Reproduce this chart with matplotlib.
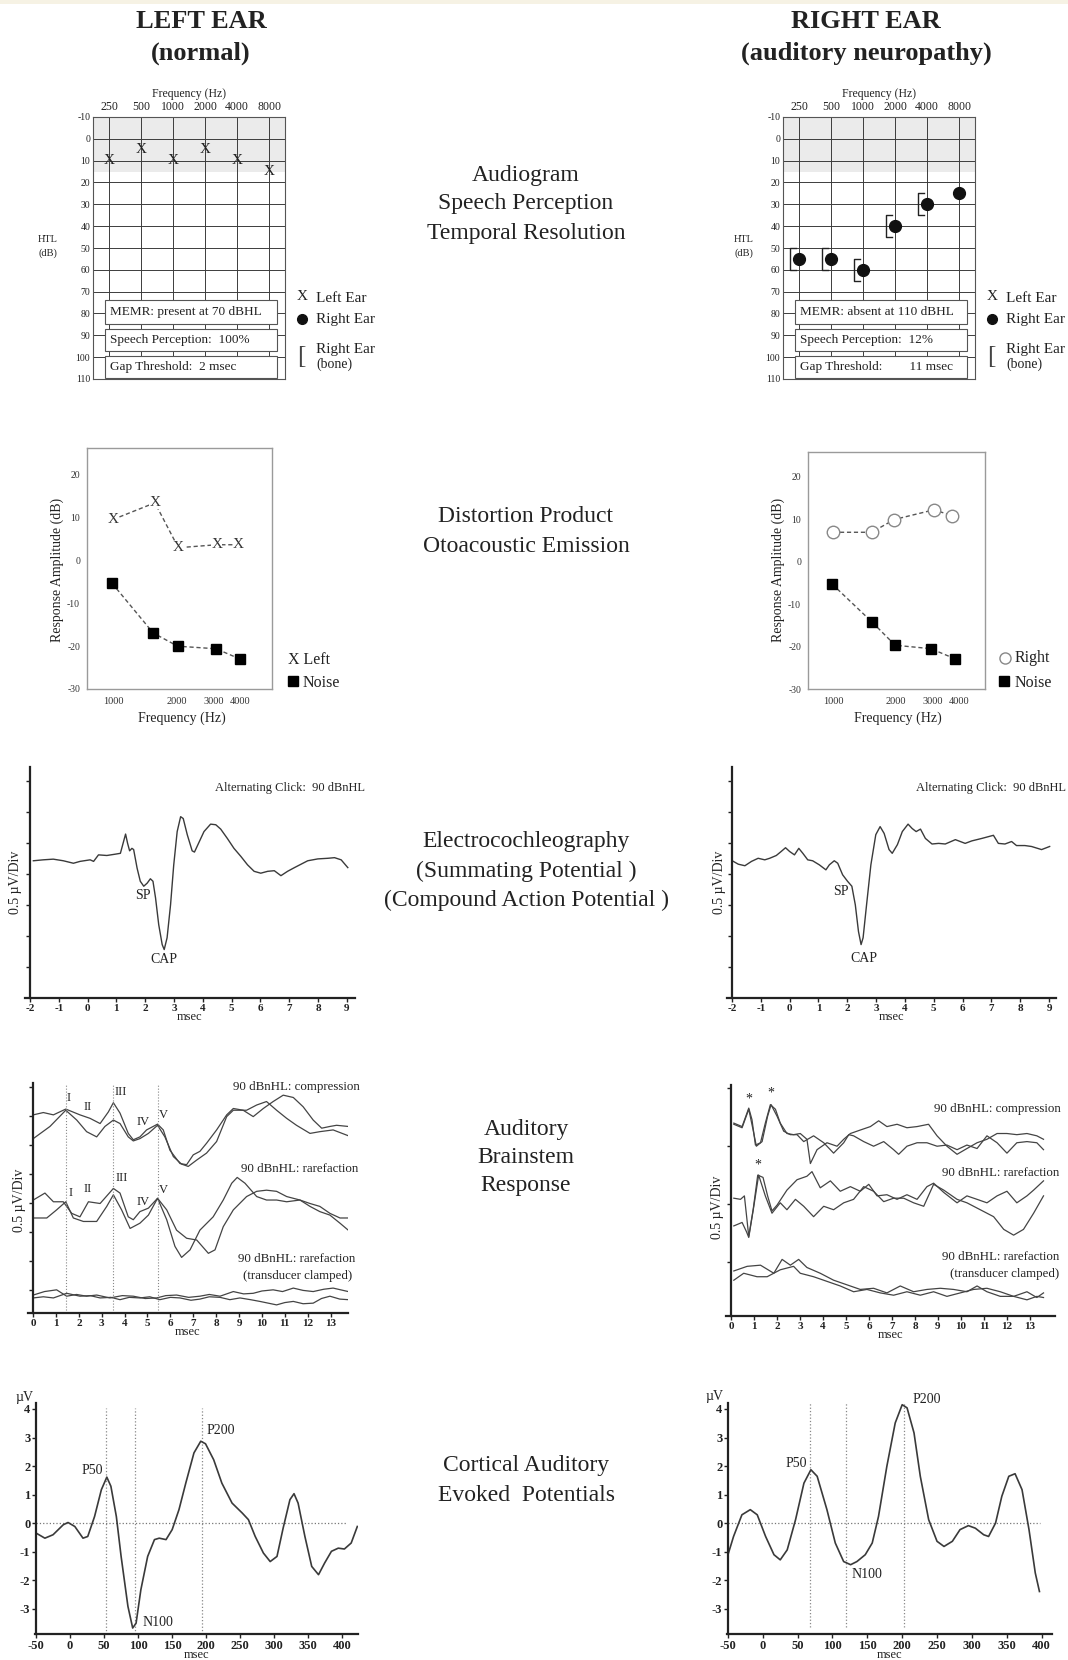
import numpy as np
import matplotlib
matplotlib.use('Agg')
from matplotlib import pyplot as plt
from matplotlib.patches import Rectangle
from matplotlib.lines import Line2D
from matplotlib.ticker import NullLocator

plt.rcParams['font.family'] = ['Liberation Serif', 'DejaVu Serif']
plt.rcParams['axes.unicode_minus'] = False

W, H = 1068, 1660
INK = '#3a3a3a'

# ---------------- data ----------------
aud_freqs = ['250', '500', '1000', '2000', '4000', '8000']
aud_left_air = [10, 5, 10, 5, 10, 15]
aud_right_air = [55, 55, 60, 40, 30, 25]
aud_right_bone = [55, 55, 60, 40, 30]          # no bone value at 8000
aud_left_boxes = ['MEMR: present at 70 dBHL', 'Speech Perception:  100%', 'Gap Threshold:  2 msec']
aud_right_boxes = ['MEMR: absent at 110 dBHL', 'Speech Perception:  12%', 'Gap Threshold:        11 msec']

dp_left_f = [1000, 1580, 2040, 3100, 3930]
dp_left_db = [9.6, 13.5, 3.0, 3.7, 3.7]
dp_left_noise_f = [990, 1550, 2025, 3080, 4000]
dp_left_noise_db = [-5.3, -16.9, -20.0, -20.6, -23.0]
dp_right_f = [1000, 1530, 1960, 3040, 3700]
dp_right_db = [6.9, 6.9, 9.9, 12.2, 10.8]
dp_right_noise_f = [990, 1540, 1980, 2930, 3830]
dp_right_noise_db = [-5.3, -14.3, -19.7, -20.5, -22.9]
dp_ticks = [1000, 2000, 3000, 4000]

# ECochG (msec, uV)
ecog_left = [(-1.88, 0.21), (-1.54, 0.225), (-1.19, 0.236), (-0.84, 0.21), (-0.49, 0.17),
             (-0.26, 0.20), (0.09, 0.225), (0.21, 0.20), (0.38, 0.305), (0.67, 0.295),
             (0.96, 0.316), (1.14, 0.33), (1.25, 0.52), (1.32, 0.64), (1.39, 0.49),
             (1.46, 0.37), (1.54, 0.41), (1.60, 0.39), (1.72, 0.09), (1.83, -0.12),
             (1.95, -0.20), (2.07, -0.15), (2.18, -0.08), (2.27, -0.12), (2.36, -0.39),
             (2.47, -0.82), (2.59, -1.14), (2.66, -1.22), (2.76, -1.03), (2.88, -0.50),
             (2.99, 0.14), (3.11, 0.68), (3.23, 0.92), (3.32, 0.89), (3.46, 0.63),
             (3.63, 0.37), (3.71, 0.35), (3.83, 0.47), (4.04, 0.68), (4.27, 0.80),
             (4.45, 0.79), (4.62, 0.72), (4.85, 0.57), (5.08, 0.41), (5.32, 0.28),
             (5.55, 0.145), (5.78, 0.04), (6.01, 0.01), (6.25, 0.04), (6.48, 0.05),
             (6.71, -0.03), (6.94, 0.04), (7.18, 0.10), (7.41, 0.155), (7.64, 0.21),
             (7.99, 0.24), (8.34, 0.25), (8.57, 0.26), (8.80, 0.225), (9.03, 0.10)]
ecog_right = [(-1.95, 0.20), (-1.78, 0.155), (-1.55, 0.13), (-1.32, 0.20), (-1.09, 0.25),
              (-0.86, 0.225), (-0.69, 0.25), (-0.46, 0.295), (-0.29, 0.36), (-0.14, 0.42),
              (0.0, 0.36), (0.17, 0.305), (0.32, 0.41), (0.46, 0.33), (0.63, 0.225),
              (0.80, 0.21), (1.03, 0.145), (1.26, 0.064), (1.38, 0.145), (1.55, 0.21),
              (1.67, 0.17), (1.84, -0.016), (2.01, -0.12), (2.16, -0.20), (2.28, -0.50),
              (2.39, -0.93), (2.48, -1.14), (2.55, -1.03), (2.67, -0.50), (2.82, 0.145),
              (2.99, 0.63), (3.14, 0.76), (3.28, 0.65), (3.45, 0.39), (3.56, 0.33),
              (3.74, 0.47), (3.91, 0.68), (4.11, 0.80), (4.25, 0.73), (4.39, 0.68),
              (4.54, 0.72), (4.71, 0.57), (4.94, 0.48), (5.17, 0.49), (5.40, 0.48),
              (5.75, 0.55), (6.09, 0.49), (6.32, 0.53), (6.67, 0.57), (7.07, 0.62),
              (7.24, 0.49), (7.47, 0.48), (7.70, 0.52), (7.87, 0.455), (8.16, 0.455),
              (8.39, 0.44), (8.74, 0.39), (9.02, 0.44)]
ecog_left_marks = {'SP': (1.92, -0.35), 'CAP': (2.65, -1.38)}
ecog_right_marks = {'SP': (1.79, -0.29), 'CAP': (2.59, -1.37)}

# ABR left (msec, uV)
abr_left_comp_a = [(0.01, 3.02), (0.45, 3.06), (0.89, 3.02), (1.43, 3.12), (2.05, 3.02), (2.49, 2.96),
                   (2.93, 2.87), (3.29, 3.07), (3.51, 3.23), (3.80, 3.05), (4.16, 2.70), (4.38, 2.59),
                   (4.67, 2.64), (4.96, 2.76), (5.44, 2.86), (5.69, 2.76), (5.98, 2.41), (6.42, 2.18),
                   (6.71, 2.16), (7.00, 2.33), (7.29, 2.39), (7.58, 2.53), (8.02, 2.76), (8.46, 3.02),
                   (8.75, 3.13), (9.18, 3.10), (9.62, 2.99), (10.06, 3.13), (10.49, 3.25), (10.93, 3.36),
                   (11.37, 3.32), (11.80, 3.16), (12.24, 2.93), (12.61, 2.79), (12.97, 2.82),
                   (13.26, 2.84), (13.77, 2.82)]
abr_left_comp_b = [(0.01, 2.61), (0.74, 2.82), (1.43, 3.10), (1.91, 2.93), (2.34, 2.73), (2.78, 2.64),
                   (3.14, 2.82), (3.51, 2.93), (3.80, 2.87), (4.16, 2.64), (4.38, 2.57), (4.67, 2.61),
                   (5.04, 2.70), (5.44, 2.84), (5.76, 2.64), (6.13, 2.30), (6.49, 2.17), (6.78, 2.13),
                   (7.15, 2.24), (7.58, 2.36), (8.02, 2.56), (8.46, 2.99), (8.75, 3.10), (9.33, 3.10),
                   (9.77, 3.19), (10.20, 3.25), (10.64, 3.10), (11.08, 2.96), (11.51, 2.84),
                   (12.10, 2.70), (12.53, 2.73), (13.11, 2.76), (13.77, 2.66)]
abr_left_rare_a = [(0.01, 1.55), (0.52, 1.67), (0.89, 1.52), (1.32, 1.52), (1.69, 1.32), (2.05, 1.26),
                   (2.42, 1.52), (2.93, 1.49), (3.51, 1.75), (3.80, 1.67), (4.16, 1.26), (4.38, 1.21),
                   (4.67, 1.35), (5.04, 1.41), (5.44, 1.58), (5.84, 1.38), (6.27, 1.03), (6.71, 0.89),
                   (7.15, 0.86), (7.66, 0.63), (7.95, 0.69), (8.31, 1.09), (8.75, 1.38), (9.33, 1.61),
                   (9.77, 1.70), (10.20, 1.72), (10.64, 1.70), (11.08, 1.61), (11.66, 1.55),
                   (12.10, 1.49), (12.53, 1.44), (12.97, 1.32), (13.41, 1.24), (13.77, 1.24)]
abr_left_rare_b = [(0.01, 1.24), (0.60, 1.24), (1.03, 1.38), (1.43, 1.52), (1.76, 1.24), (2.20, 1.18),
                   (2.78, 1.18), (3.22, 1.44), (3.51, 1.64), (3.87, 1.38), (4.24, 1.06), (4.67, 1.15),
                   (5.04, 1.29), (5.44, 1.58), (5.84, 1.21), (6.20, 0.75), (6.49, 0.56), (6.86, 0.69),
                   (7.29, 1.03), (7.87, 1.26), (8.31, 1.55), (8.68, 1.84), (8.92, 1.94), (9.26, 1.84),
                   (9.77, 1.61), (10.20, 1.55), (10.64, 1.55), (11.08, 1.52), (11.66, 1.55),
                   (12.10, 1.44), (12.53, 1.35), (12.97, 1.29), (13.41, 1.15), (13.77, 1.03)]
abr_left_clamp_a = [(0.01, -0.09), (0.5, -0.03), (1.03, 0.0), (1.47, -0.11), (1.9, -0.08), (2.34, -0.11),
                    (2.78, -0.09), (3.36, -0.14), (3.9, -0.10), (4.38, -0.11), (4.9, -0.15), (5.40, -0.14),
                    (5.8, -0.10), (6.27, -0.09), (6.8, -0.13), (7.29, -0.11), (7.7, -0.08), (8.17, -0.11),
                    (8.75, -0.03), (9.2, -0.07), (9.62, -0.06), (10.0, -0.02), (10.49, 0.0), (10.9, -0.03),
                    (11.37, 0.03), (11.8, -0.01), (12.24, -0.03), (12.7, 0.01), (13.11, 0.03), (13.77, -0.03)]
abr_left_clamp_b = [(0.01, -0.14), (0.45, -0.12), (0.89, -0.14), (1.47, -0.06), (2.05, -0.11), (2.5, -0.10),
                    (2.93, -0.14), (3.4, -0.13), (3.80, -0.17), (4.2, -0.13), (4.67, -0.14), (5.1, -0.12),
                    (5.54, -0.17), (6.0, -0.13), (6.42, -0.14), (6.9, -0.18), (7.29, -0.16), (7.7, -0.12),
                    (8.17, -0.13), (8.6, -0.17), (9.04, -0.14), (9.5, -0.17), (9.91, -0.20), (10.64, -0.26),
                    (11.0, -0.22), (11.37, -0.20), (11.8, -0.24), (12.24, -0.23), (12.6, -0.15),
                    (12.97, -0.11), (13.4, -0.16), (13.77, -0.17)]
abr_left_peak_ms = [1.45, 3.5, 5.45]
abr_left_labels_comp = [('I', 1.57, 3.31), ('II', 2.40, 3.16), ('III', 3.84, 3.41), ('IV', 4.80, 2.90), ('V', 5.68, 3.02)]
abr_left_labels_rare = [('I', 1.62, 1.67), ('II', 2.40, 1.74), ('III', 3.89, 1.93), ('IV', 4.80, 1.52), ('V', 5.68, 1.72)]

# ABR right (msec, uV)
abr_right_comp_a = [(0.12, 1.20), (0.48, 1.17), (0.77, 1.33), (0.91, 1.23), (1.06, 1.01), (1.28, 1.03),
                    (1.49, 1.20), (1.71, 1.36), (1.93, 1.32), (2.14, 1.20), (2.43, 1.11), (2.72, 1.10),
                    (3.01, 1.11), (3.30, 1.06), (3.45, 0.85), (3.74, 0.97), (4.17, 1.03), (4.61, 1.00),
                    (4.90, 1.06), (5.19, 1.11), (5.62, 1.14), (6.06, 1.17), (6.42, 1.22), (6.78, 1.17),
                    (7.22, 1.19), (7.65, 1.16), (8.09, 1.17), (8.59, 1.19), (8.96, 1.09), (9.39, 1.00),
                    (9.83, 0.93), (10.26, 0.98), (10.70, 1.03), (11.13, 1.06), (11.57, 1.11),
                    (12.00, 1.11), (12.43, 1.10), (12.87, 1.11), (13.30, 1.09), (13.59, 1.06)]
abr_right_comp_b = [(0.12, 1.19), (0.48, 1.16), (0.77, 1.32), (0.96, 1.14), (1.10, 1.00), (1.35, 1.04),
                    (1.59, 1.26), (1.74, 1.36), (2.00, 1.26), (2.29, 1.13), (2.58, 1.10), (2.87, 1.10),
                    (3.16, 1.04), (3.59, 1.09), (4.03, 1.03), (4.46, 0.94), (4.90, 1.03), (5.12, 1.10),
                    (5.33, 1.09), (5.77, 1.04), (6.20, 1.00), (6.64, 1.04), (7.07, 0.97), (7.29, 0.93),
                    (7.65, 1.00), (8.09, 1.03), (8.52, 1.03), (8.96, 1.00), (9.39, 1.01), (9.83, 0.97),
                    (10.26, 1.01), (10.70, 0.98), (11.13, 1.09), (11.57, 1.03), (12.00, 0.94),
                    (12.43, 1.03), (12.87, 1.04), (13.30, 1.03), (13.59, 0.97)]
abr_right_rare_a = [(0.12, 0.55), (0.41, 0.54), (0.58, 0.57), (0.77, 0.22), (0.96, 0.45), (1.16, 0.75),
                    (1.39, 0.73), (1.59, 0.57), (1.78, 0.44), (2.00, 0.49), (2.43, 0.62), (2.87, 0.71),
                    (3.30, 0.74), (3.52, 0.78), (3.88, 0.64), (4.32, 0.70), (4.75, 0.61), (5.19, 0.65),
                    (5.62, 0.61), (5.99, 0.67), (6.35, 0.57), (6.78, 0.58), (7.22, 0.54), (7.65, 0.58),
                    (8.09, 0.54), (8.52, 0.65), (8.81, 0.68), (9.25, 0.60), (9.83, 0.51), (10.26, 0.57),
                    (10.70, 0.54), (11.13, 0.51), (11.57, 0.57), (12.00, 0.61), (12.43, 0.51),
                    (12.87, 0.57), (13.16, 0.62), (13.59, 0.70)]
abr_right_rare_b = [(0.12, 0.31), (0.48, 0.34), (0.67, 0.26), (0.77, 0.21), (0.99, 0.48), (1.20, 0.75),
                    (1.49, 0.57), (1.78, 0.42), (2.14, 0.51), (2.43, 0.45), (2.80, 0.54), (3.16, 0.48),
                    (3.59, 0.39), (4.03, 0.48), (4.46, 0.45), (4.90, 0.51), (5.33, 0.54), (5.77, 0.65),
                    (6.20, 0.61), (6.64, 0.52), (7.07, 0.55), (7.51, 0.55), (7.94, 0.51), (8.38, 0.48),
                    (8.81, 0.67), (9.25, 0.62), (9.83, 0.54), (10.26, 0.51), (10.84, 0.45), (11.42, 0.39),
                    (11.86, 0.28), (12.29, 0.23), (12.72, 0.28), (13.16, 0.42), (13.59, 0.57)]
abr_right_clamp_a = [(0.12, -0.08), (0.70, -0.04), (1.28, -0.03), (1.86, -0.10), (2.22, 0.02), (2.58, -0.03),
                     (2.94, 0.02), (3.30, -0.05), (3.88, -0.10), (4.46, -0.16), (5.04, -0.20), (5.62, -0.24),
                     (6.20, -0.23), (6.78, -0.27), (7.36, -0.21), (7.94, -0.26), (8.52, -0.24), (9.10, -0.23),
                     (9.68, -0.24), (10.26, -0.26), (10.70, -0.21), (11.13, -0.26), (11.71, -0.30),
                     (12.29, -0.30), (12.87, -0.26), (13.30, -0.31), (13.59, -0.27)]
abr_right_clamp_b = [(0.12, -0.16), (0.55, -0.10), (1.13, -0.13), (1.57, -0.13), (2.14, -0.07), (2.72, -0.04),
                     (3.01, -0.10), (3.59, -0.13), (4.17, -0.17), (4.75, -0.21), (5.33, -0.26), (5.91, -0.24),
                     (6.49, -0.27), (7.07, -0.29), (7.65, -0.26), (8.23, -0.29), (8.81, -0.26), (9.39, -0.30),
                     (9.97, -0.27), (10.55, -0.24), (11.13, -0.23), (11.71, -0.26), (12.29, -0.30),
                     (12.87, -0.33), (13.30, -0.30), (13.59, -0.31)]
abr_right_stars = [(0.78, 1.41), (1.74, 1.46), (1.17, 0.84)]

# CAEP (msec, uV)
caep_left = [(-50, -0.35), (-37, -0.53), (-25, -0.41), (-10, -0.06), (-3, 0.02), (7, -0.12), (19, -0.53),
             (26, -0.47), (36, 0.23), (46, 1.17), (54, 1.61), (60, 1.29), (68, 0.23), (75, -1.17),
             (85, -2.92), (92, -3.68), (97, -3.51), (104, -2.34), (114, -1.17), (124, -0.58),
             (131, -0.53), (141, -0.58), (150, -0.23), (160, 0.47), (170, 1.40), (182, 2.46),
             (192, 2.87), (199, 2.78), (211, 2.22), (223, 1.40), (238, 0.70), (253, 0.35), (262, 0.12),
             (272, -0.47), (284, -1.05), (294, -1.35), (304, -1.17), (313, -0.18), (323, 0.82),
             (329, 1.03), (335, 0.70), (345, -0.47), (355, -1.52), (365, -1.81), (374, -1.40),
             (384, -0.99), (394, -0.88), (403, -0.91), (413, -0.70), (422, -0.12)]
caep_right = [(-50, -1.11), (-42, -0.47), (-30, 0.29), (-18, 0.47), (-8, 0.29), (4, -0.47), (16, -1.11),
              (25, -1.29), (35, -0.94), (47, 0.12), (59, 1.40), (69, 1.87), (78, 1.64), (92, 0.47),
              (104, -0.70), (116, -1.35), (126, -1.46), (135, -1.35), (147, -1.11), (157, -0.70),
              (166, 0.23), (178, 1.99), (190, 3.51), (200, 4.15), (207, 4.04), (217, 3.16), (226, 1.64),
              (238, 0.12), (250, -0.64), (260, -0.82), (272, -0.64), (283, -0.23), (295, -0.09),
              (305, -0.18), (317, -0.41), (324, -0.47), (334, 0.0), (343, 0.94), (353, 1.64),
              (362, 1.73), (372, 1.17), (382, -0.23), (391, -1.75), (397, -2.40)]
caep_left_peak_ms = [53, 96, 194]
caep_right_peak_ms = [68, 120, 203]
caep_left_marks = [('P50', 48, 1.86, 'right'), ('N100', 106, -3.5, 'left'), ('P200', 201, 3.26, 'left')]
caep_right_marks = [('P50', 63, 2.1, 'right'), ('N100', 128, -1.82, 'left'), ('P200', 215, 4.32, 'left')]

# ---------------- helpers ----------------
fig = plt.figure(figsize=(W / 100, H / 100), dpi=100)


def px_axes(l, t, r, b):
    ax = fig.add_axes([l / W, 1 - b / H, (r - l) / W, (b - t) / H])
    ax.patch.set_alpha(0)
    return ax


def ftext(x, y, s, **kw):
    kw.setdefault('ha', 'center')
    kw.setdefault('va', 'center')
    kw.setdefault('color', '#222')
    fig.text(x / W, 1 - y / H, s, **kw)


def fmark(x, y, **kw):
    fig.add_artist(Line2D([x / W], [1 - y / H], transform=fig.transFigure, linestyle='none', **kw))


def bold_ticks(ax):
    for lbl in ax.get_xticklabels() + ax.get_yticklabels():
        lbl.set_fontweight('bold')


def trace_axes(ax, x0):
    for side in ('top', 'right'):
        ax.spines[side].set_visible(False)
    for side in ('left', 'bottom'):
        ax.spines[side].set_linewidth(1.6)
        ax.spines[side].set_color('#222')
    ax.spines['left'].set_position(('data', x0))
    ax.tick_params(direction='out', length=3, width=1, pad=1, labelsize=8, colors='#222')


def draw_audiogram(l, r, boxes, left_air=None, right_air=None, bone=None):
    ax = px_axes(l, 117, r, 379)
    idx = np.arange(len(aud_freqs))
    ax.set_xlim(-0.5, 5.5)
    ax.set_ylim(110, -10)
    ax.axhspan(-10, 15, color='#ebebeb', lw=0, zorder=0)
    for v in range(0, 110, 10):
        ax.axhline(v, color='#3c3c3c', lw=0.7, zorder=1)
    for i in idx:
        ax.axvline(i, color='#3c3c3c', lw=0.7, zorder=1)
    ax.set_xticks(idx, aud_freqs)
    ax.xaxis.tick_top()
    ax.set_yticks(range(-10, 111, 10))
    ax.tick_params(axis='x', length=0, pad=3, labelsize=8.5, colors='#222')
    ax.tick_params(axis='y', length=0, pad=2, labelsize=7, colors='#222')
    ax.xaxis.set_label_position('top')
    ax.set_xlabel('Frequency (Hz)', fontsize=8.5, labelpad=3, color='#222')
    for s in ax.spines.values():
        s.set_color('#555')
        s.set_linewidth(0.8)
    rows = [(74, 85), (87, 97), (99.4, 109.4)]
    for (y0, y1), text in zip(rows, boxes):
        ax.add_patch(Rectangle((-0.125, y0), 5.38, y1 - y0, fc='white', ec='#555', lw=0.8, zorder=3))
        ax.text(0.02, (y0 + y1) / 2, text, fontsize=9.5, va='center', zorder=4, color='#222')
    if left_air is not None:
        for i, v in zip(idx, left_air):
            ax.text(i, v, 'X', ha='center', va='center', fontsize=11, zorder=5, color='#222')
    if right_air is not None:
        ax.plot(idx, right_air, 'o', ms=8.5, color='#111', zorder=5)
    if bone is not None:
        for i, v in zip(idx, bone):
            ax.plot([i - 0.09, i - 0.29, i - 0.29, i - 0.09], [v - 5, v - 5, v + 5, v + 5],
                    color='#222', lw=1.0, zorder=5)
    return ax


def audiogram_legend(x):
    ftext(x, 297, 'X', fontsize=11)
    ftext(x + 14, 298, 'Left Ear', fontsize=11, ha='left')
    fmark(x, 319, marker='o', ms=7, color='#111')
    ftext(x + 14, 320, 'Right Ear', fontsize=11, ha='left')
    ftext(x - 1, 357, '[', fontsize=18, color='#444')
    ftext(x + 14, 349, 'Right Ear', fontsize=11, ha='left')
    ftext(x + 14, 364, '(bone)', fontsize=10, ha='left')


def draw_dpoae(box, xlim, ylim, f, db, nf, ndb, kind):
    ax = px_axes(*box)
    ax.set_xscale('log')
    ax.set_xlim(*xlim)
    ax.set_ylim(*ylim)
    ax.set_xticks(dp_ticks, [str(t) for t in dp_ticks])
    ax.xaxis.set_minor_locator(NullLocator())
    ax.set_yticks(range(-30, 21, 10))
    ax.tick_params(axis='x', length=0, pad=6, labelsize=7.5, colors='#333')
    ax.tick_params(axis='y', length=0, pad=5, labelsize=7, colors='#333')
    for s in ax.spines.values():
        s.set_color('#9a9a9a')
        s.set_linewidth(1)
    dash = dict(ls=(0, (3, 2)), color='#555', lw=1)
    if kind == 'left':
        ax.plot(f, db, **dash)
        for x, y in zip(f, db):
            ax.text(x, y, 'X', ha='center', va='center', fontsize=11, color='#333',
                    bbox=dict(fc='white', ec='none', pad=0))
    else:
        ax.plot(f, db, marker='o', ms=9, mfc='white', mec='#888', mew=1, **dash)
    ax.plot(nf, ndb, marker='s', ms=7.5, mfc='black', mec='black', **dash)
    return ax


def draw_ecog(l, r, xlim, trace, marks):
    ax = px_axes(l, 767, r, 998)
    ax.set_xlim(*xlim)
    ax.set_ylim(-2.0, 1.72)
    trace_axes(ax, -2)
    ax.set_xticks(range(-2, 10))
    ax.set_yticks(np.arange(-1.5, 1.6, 0.5), [])
    bold_ticks(ax)
    ax.set_xlabel('msec', fontsize=9, labelpad=-1, color='#222')
    ms, uv = np.array(trace).T
    ax.plot(ms, uv, color=INK, lw=1.0)
    for name, (x, y) in marks.items():
        ax.text(x, y, name, ha='center', va='center', fontsize=10, color='#222')
    return ax


def draw_abr(box, xlim, ylim, yticks, traces):
    ax = px_axes(*box)
    ax.set_xlim(*xlim)
    ax.set_ylim(*ylim)
    trace_axes(ax, 0)
    ax.set_xticks(range(0, 14))
    ax.set_yticks(yticks, [])
    bold_ticks(ax)
    ax.set_xlabel('msec', fontsize=9, labelpad=-1, color='#222')
    for tr in traces:
        ms, uv = np.array(tr).T
        ax.plot(ms, uv, color='#444', lw=0.9)
    return ax


def draw_caep(box, xlim, trace, peaks, marks, zero_end, vtop, vbot):
    ax = px_axes(*box)
    ax.set_xlim(*xlim)
    ax.set_ylim(-3.89, 4.21)
    trace_axes(ax, -50)
    ax.set_xticks(range(-50, 401, 50))
    ax.set_yticks(range(-3, 5))
    ax.tick_params(labelsize=9)
    bold_ticks(ax)
    ax.set_xlabel('msec', fontsize=9, labelpad=-2, color='#222')
    ax.plot([-50, zero_end], [0, 0], ls=':', color='#777', lw=0.9)
    for p in peaks:
        ax.plot([p, p], [vbot, vtop], ls=':', color='#888', lw=0.9)
    ms, uv = np.array(trace).T
    ax.plot(ms, uv, color=INK, lw=1.2)
    for name, x, y, ha in marks:
        ax.text(x, y, name, ha=ha, va='center', fontsize=10, color='#222')
    return ax


# ---------------- headers and middle column ----------------
fig.add_artist(Rectangle((0, 1 - 4 / H), 1, 4 / H, transform=fig.transFigure, fc='#f6f2e4', ec='none'))
ftext(201, 21, 'LEFT EAR', fontsize=19, fontweight='bold')
ftext(201, 53, '(normal)', fontsize=19, fontweight='bold')
ftext(866, 21, 'RIGHT EAR', fontsize=19, fontweight='bold')
ftext(866, 53, '(auditory neuropathy)', fontsize=19, fontweight='bold')

middle = [(175, 'Audiogram'), (204, 'Speech Perception'), (234, 'Temporal Resolution'),
          (517, 'Distortion Product'), (547, 'Otoacoustic Emission'),
          (841, 'Electrocochleography'), (871, '(Summating Potential )'), (900, '(Compound Action Potential )'),
          (1129, 'Auditory'), (1157, 'Brainstem'), (1186, 'Response'),
          (1465, 'Cortical Auditory'), (1495, 'Evoked  Potentials')]
for y, s in middle:
    ftext(526, y, s, fontsize=17)

# ---------------- audiograms ----------------
draw_audiogram(93, 285, aud_left_boxes, left_air=aud_left_air)
draw_audiogram(783, 975, aud_right_boxes, right_air=aud_right_air, bone=aud_right_bone)
for x in (48, 744):
    ftext(x, 240, 'HTL', fontsize=7.5)
    ftext(x, 253, '(dB)', fontsize=7.5)
audiogram_legend(302)
audiogram_legend(992)

# ---------------- DPOAE ----------------
draw_dpoae((87, 448, 272, 689), (753, 5670), (-30, 26.3),
           dp_left_f, dp_left_db, dp_left_noise_f, dp_left_noise_db, 'left')
draw_dpoae((808, 452, 985, 689), (759, 5320), (-30, 25.8),
           dp_right_f, dp_right_db, dp_right_noise_f, dp_right_noise_db, 'right')
ftext(57, 570, 'Response Amplitude (dB)', fontsize=10, rotation=90)
ftext(778, 570, 'Response Amplitude (dB)', fontsize=10, rotation=90)
ftext(182, 718, 'Frequency (Hz)', fontsize=10)
ftext(898, 718, 'Frequency (Hz)', fontsize=10)
ftext(288, 660, 'X Left', fontsize=11.5, ha='left')
fmark(292.5, 681, marker='s', ms=7, color='black')
ftext(303, 683, 'Noise', fontsize=11.5, ha='left')
fmark(1005, 658, marker='o', ms=8, mfc='white', mec='#888')
ftext(1015, 658, 'Right', fontsize=11.5, ha='left')
fmark(1004, 681, marker='s', ms=7, color='black')
ftext(1015, 683, 'Noise', fontsize=11.5, ha='left')

# ---------------- ECochG ----------------
draw_ecog(25, 355, (-2.17, 9.28), ecog_left, ecog_left_marks)
draw_ecog(727, 1056, (-2.17, 9.24), ecog_right, ecog_right_marks)
ftext(365, 788, 'Alternating Click:  90 dBnHL', fontsize=9, ha='right')
ftext(1066, 788, 'Alternating Click:  90 dBnHL', fontsize=9, ha='right')
ftext(16, 882, '0.5 µV/Div', fontsize=10, rotation=90)
ftext(719, 882, '0.5 µV/Div', fontsize=10, rotation=90)

# ---------------- ABR ----------------
ax = draw_abr((28, 1083, 348, 1313), (-0.22, 13.76), (-0.4, 3.57), np.arange(0, 3.6, 0.5),
              [abr_left_comp_a, abr_left_comp_b, abr_left_rare_a, abr_left_rare_b,
               abr_left_clamp_a, abr_left_clamp_b])
for p in abr_left_peak_ms:
    ax.plot([p, p], [-0.4, 3.55], ls=':', color='#888', lw=0.8)
for name, x, y in abr_left_labels_comp + abr_left_labels_rare:
    ax.text(x, y, name, ha='center', va='center', fontsize=9, color='#222')

ax = draw_abr((726, 1085, 1055, 1316), (-0.22, 14.09), (-0.47, 1.53), [0, 0.5, 1.0, 1.5],
              [abr_right_comp_a, abr_right_comp_b, abr_right_rare_a, abr_right_rare_b,
               abr_right_clamp_a, abr_right_clamp_b])
for x, y in abr_right_stars:
    ax.text(x, y, '*', ha='center', va='center', fontsize=10, color='#222')

ftext(360, 1087, '90 dBnHL: compression', fontsize=9.3, ha='right')
ftext(358, 1169, '90 dBnHL: rarefaction', fontsize=9.3, ha='right')
ftext(355, 1259, '90 dBnHL: rarefaction', fontsize=9.3, ha='right')
ftext(352, 1276, '(transducer clamped)', fontsize=9.3, ha='right')
ftext(1061, 1109, '90 dBnHL: compression', fontsize=9.3, ha='right')
ftext(1059, 1173, '90 dBnHL: rarefaction', fontsize=9.3, ha='right')
ftext(1059, 1257, '90 dBnHL: rarefaction', fontsize=9.3, ha='right')
ftext(1059, 1274, '(transducer clamped)', fontsize=9.3, ha='right')
ftext(19, 1200, '0.5 µV/Div', fontsize=10, rotation=90)
ftext(717, 1207, '0.5 µV/Div', fontsize=10, rotation=90)

# ---------------- CAEP ----------------
draw_caep((35, 1403, 358, 1634), (-51.5, 423), caep_left, caep_left_peak_ms, caep_left_marks,
          405, 4.03, -3.89)
draw_caep((727, 1403, 1052, 1634), (-51.4, 415), caep_right, caep_right_peak_ms, caep_right_marks,
          398, 4.2, -3.65)
ftext(25, 1397, 'µV', fontsize=10)
ftext(715, 1396, 'µV', fontsize=10)

fig.savefig('out.png', dpi=100)
